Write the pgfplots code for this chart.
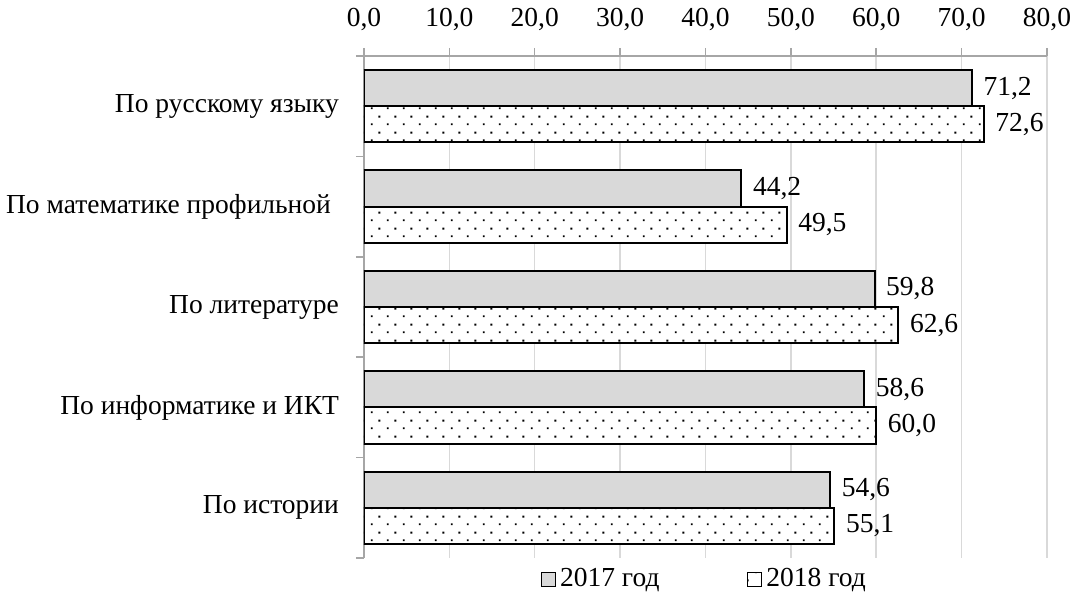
\documentclass[border=0pt]{standalone}
\usepackage{fontspec}
\setmainfont{Liberation Serif}
\usepackage{pgfplots}
\pgfplotsset{compat=1.18}
\usetikzlibrary{patterns.meta}
\definecolor{barfill}{HTML}{D9D9D9}
\definecolor{gridc}{HTML}{D9D9D9}
\definecolor{axc}{HTML}{A6A6A6}
\tikzdeclarepattern{name=sdots, type=uncolored,
  bounding box={(0pt,0pt) and (8pt,8pt)}, tile size={(8pt,8pt)},
  code={\fill (1.5pt,1.5pt) rectangle (2.5pt,2.5pt);
        \fill (5.5pt,5.5pt) rectangle (6.5pt,6.5pt);}}
\newcommand{\cf}{\fontsize{13.75}{16}\selectfont}
\begin{document}
\begin{tikzpicture}
\begin{axis}[
  at={(0,0)}, anchor=south west,
  scale only axis, width=341.5pt, height=251pt,
  xbar, bar width=0.36,
  xmin=0, xmax=80, xtick={0,10,...,80},
  xticklabel={\pgfmathprintnumber[fixed,fixed zerofill,precision=1,use comma,assume math mode=true]{\tick}},
  ymin=-0.5, ymax=4.5, y dir=reverse,
  ytick={-0.5,0.5,1.5,2.5,3.5,4.5},
  y tick label as interval,
  yticklabels={По русскому языку, {По математике профильной\kern4pt}, По литературе, По информатике и ИКТ, По истории},
  axis x line*=top, axis y line*=left,
  axis line style={axc, line width=1pt},
  tick align=outside,
  xmajorgrids, grid style={gridc, line width=0.75pt},
  tick style={axc, line width=0.75pt}, major tick length=4pt,
  tick label style={font=\cf, text=black},
  xticklabel shift=5pt,
  yticklabel shift=5pt,
  nodes near coords={\pgfmathprintnumber[fixed,fixed zerofill,precision=1,use comma,assume math mode=true]{\pgfplotspointmeta}},
  nodes near coords style={font=\cf, text=black, anchor=west, xshift=2pt},
  legend style={at={(0.5,0)}, anchor=north, yshift=-1pt, draw=none, fill=none,
    legend columns=2, font=\cf, inner sep=2pt,
    /tikz/every even column/.append style={column sep=42pt}},
  legend image code/.code={\draw[#1,line width=0.5pt] (0pt,-3.5pt) rectangle (7pt,3.5pt);},
]
\addplot[bar shift=-0.18, draw=black, line width=1pt, fill=barfill]
  coordinates {(71.2,0) (44.2,1) (59.8,2) (58.6,3) (54.6,4)};
\addplot[bar shift=0.18, draw=black, line width=1pt, fill=white, postaction={pattern=sdots}]
  coordinates {(72.6,0) (49.5,1) (62.6,2) (60.0,3) (55.1,4)};
\legend{2017 год, 2018 год}
\end{axis}
\pgfresetboundingbox
\path (-182pt,-17pt) rectangle (354pt,279pt);
\end{tikzpicture}
\end{document}
